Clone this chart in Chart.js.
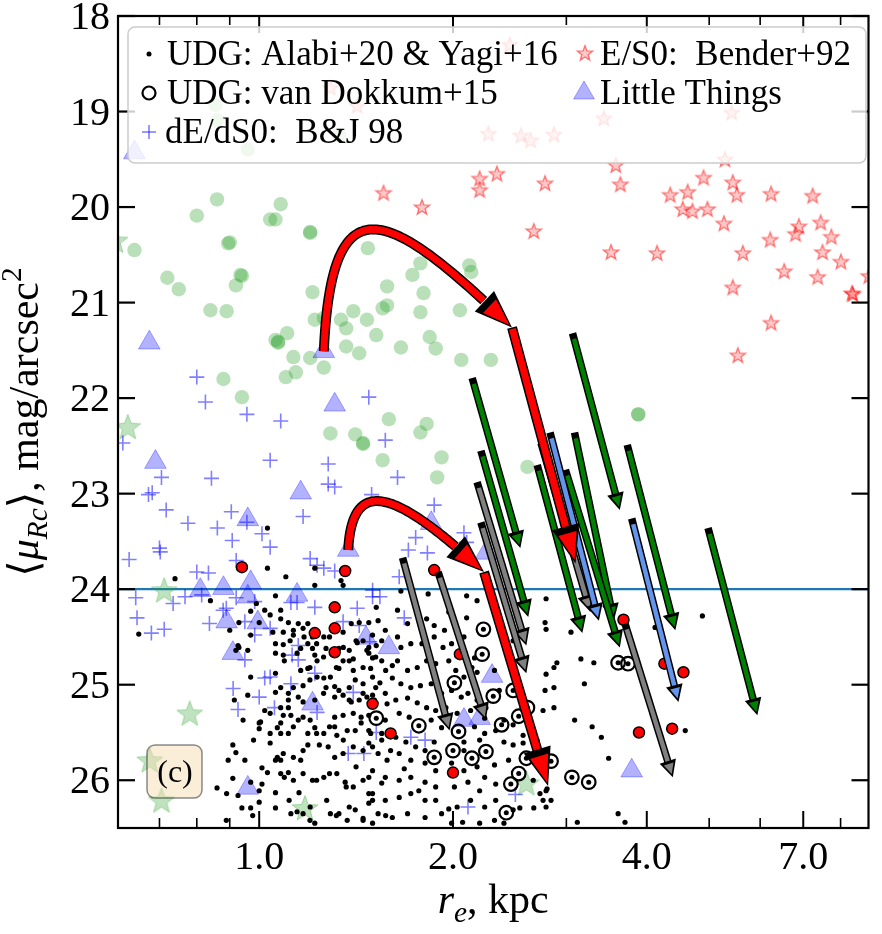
<!DOCTYPE html>
<html>
<head>
<meta charset="utf-8">
<script src="https://cdn.jsdelivr.net/npm/chart.js@4.4.1/dist/chart.umd.min.js"></script>
<style>
  html, body { margin: 0; padding: 0; background: #fff; }
  canvas { display: block; }
</style>
</head>
<body>
<canvas id="chart" width="882" height="934"></canvas>
<script>
// axis limits and ticks
const xMin = 0.6035, xMax = 8.84;
const yMin = 18, yMax = 26.5;
const xMajorTicks = [1, 2, 4, 7];
const xTickLabels = ['1.0', '2.0', '4.0', '7.0'];
const xMinorTicks = [0.7, 0.8, 0.9, 3, 5, 6, 8];
const yTicks = [18, 19, 20, 21, 22, 23, 24, 25, 26];
const muLimit = 24;

// UDG: Alabi+20 & Yagi+16  [r_e kpc, <mu>]
const udgPoints = [
  [1.10,23.87],[1.22,23.96],[1.35,23.96],[0.84,24.12],[1.06,24.07],[0.99,24.15],[1.02,24.22],[0.97,24.23],[1.08,24.22],[1.08,24.31],
  [0.93,24.35],[1.11,24.35],[1.15,24.36],[1.05,24.45],[1.09,24.45],[1.13,24.43],[1.17,24.41],[1.19,24.36],[1.21,24.50],[1.26,24.50],
  [1.35,24.45],[1.39,24.36],[1.43,24.35],[1.42,24.56],[1.45,24.54],[0.97,24.48],[0.93,24.61],[0.96,24.64],[0.92,24.64],[1.06,24.57],
  [1.06,24.67],[1.09,24.58],[1.09,24.69],[1.16,24.62],[1.19,24.57],[1.21,24.62],[1.22,24.69],[1.23,24.75],[1.27,24.62],[1.33,24.62],
  [1.38,24.64],[1.35,24.75],[1.40,24.73],[1.47,24.64],[1.48,24.67],[1.52,24.59],[1.33,24.83],[1.40,24.85],[1.45,24.82],[1.49,24.83],
  [0.97,24.92],[1.06,24.88],[1.16,24.85],[1.19,24.83],[1.08,25.03],[1.13,25.03],[1.17,25.01],[1.23,24.92],[1.26,24.93],[1.29,24.92],
  [1.27,25.03],[1.31,25.02],[1.33,25.06],[1.38,25.03],[1.41,24.95],[1.45,24.99],[1.50,24.92],[0.96,25.11],[1.06,25.08],[1.11,25.09],
  [1.11,25.16],[1.15,25.13],[1.17,25.18],[1.22,25.16],[1.31,25.13],[1.35,25.11],[1.39,25.18],[1.43,25.16],[1.47,25.13],[1.51,25.16],
  [1.08,25.24],[1.11,25.24],[1.02,25.27],[1.04,25.30],[1.09,25.32],[1.12,25.32],[1.15,25.37],[1.17,25.34],[1.20,25.37],[1.31,25.34],
  [1.35,25.32],[1.40,25.30],[1.44,25.34],[1.48,25.32],[1.00,25.40],[1.08,25.40],[1.13,25.44],[1.08,25.51],[1.11,25.51],[1.19,25.51],
  [1.22,25.45],[1.26,25.51],[1.31,25.44],[1.32,25.53],[1.37,25.48],[1.41,25.48],[1.44,25.40],[1.48,25.48],[0.91,25.63],[0.92,25.71],
  [0.95,25.79],[0.98,25.58],[1.04,25.61],[1.06,25.79],[1.08,25.79],[1.09,25.72],[1.13,25.76],[1.16,25.79],[1.17,25.69],[1.19,25.63],
  [1.24,25.63],[1.28,25.65],[1.31,25.76],[1.35,25.72],[1.40,25.65],[1.45,25.69],[1.50,25.65],[0.91,25.98],[0.86,26.08],[0.97,26.02],
  [1.00,26.11],[1.06,26.13],[1.08,25.93],[1.11,25.92],[1.13,26.00],[1.17,25.93],[1.21,26.00],[1.26,25.97],[1.32,25.93],[1.36,26.02],
  [1.40,26.07],[1.45,26.00],[1.48,26.14],[0.89,26.14],[0.94,26.29],[0.97,26.29],[1.00,26.23],[1.06,26.29],[1.12,26.35],[1.17,26.35],
  [1.20,26.28],[1.22,26.45],[1.29,26.35],[1.33,26.35],[1.37,26.42],[1.41,26.31],[1.45,26.40],[1.48,26.24],[1.50,26.45],[1.22,23.78],
  [1.34,23.91],[1.83,24.05],[2.10,24.07],[2.18,24.12],[2.79,24.10],[2.78,24.35],[2.79,24.42],[1.52,24.19],[1.64,24.22],[1.70,24.36],
  [1.82,24.31],[1.87,24.38],[1.94,24.43],[2.02,24.41],[2.08,24.50],[2.10,24.30],[1.48,24.35],[1.53,24.33],[1.57,24.43],[1.50,24.48],
  [1.64,24.50],[1.66,24.61],[1.72,24.57],[1.79,24.57],[1.87,24.50],[1.93,24.61],[1.99,24.57],[2.09,24.67],[2.16,24.72],[2.14,24.82],
  [1.50,24.72],[1.55,24.75],[1.61,24.80],[1.64,24.75],[1.70,24.85],[1.76,24.82],[1.82,24.75],[1.88,24.78],[1.97,24.75],[2.02,24.85],
  [2.08,24.92],[2.18,24.87],[2.16,24.99],[2.32,24.85],[1.54,24.98],[1.61,24.93],[1.66,24.99],[1.72,25.03],[1.78,25.01],[1.85,24.99],
  [1.92,25.09],[1.99,25.06],[2.06,25.13],[2.11,25.09],[2.18,25.16],[2.25,25.24],[1.50,25.11],[1.57,25.09],[1.63,25.16],[1.70,25.14],
  [1.76,25.19],[1.82,25.24],[1.88,25.27],[1.95,25.24],[2.03,25.30],[2.13,25.27],[2.24,25.35],[2.40,25.37],[2.48,25.42],[2.59,25.28],
  [2.76,25.27],[2.87,25.24],[2.87,24.82],[2.87,25.03],[2.78,25.06],[2.79,24.89],[1.57,25.37],[1.65,25.30],[1.71,25.34],[1.85,25.37],
  [1.92,25.45],[2.16,25.44],[2.24,25.51],[2.33,25.48],[2.40,25.60],[2.57,25.53],[1.49,25.51],[1.55,25.58],[1.63,25.55],[1.69,25.60],
  [1.75,25.65],[1.81,25.69],[1.87,25.60],[2.08,25.60],[2.20,25.58],[2.48,25.63],[2.57,25.61],[1.53,25.72],[1.58,25.79],[1.65,25.72],
  [1.72,25.79],[1.81,25.82],[1.88,25.90],[1.99,25.82],[2.08,25.90],[2.18,25.86],[2.24,25.97],[2.32,25.84],[1.50,25.90],[1.57,25.97],
  [1.65,26.00],[1.72,25.97],[1.81,26.02],[1.88,26.07],[2.01,26.07],[2.11,26.02],[2.20,26.11],[2.33,26.04],[1.50,26.14],[1.57,26.21],
  [1.65,26.18],[1.72,26.14],[1.81,26.21],[1.88,26.21],[2.03,26.28],[2.13,26.21],[2.24,26.28],[2.33,26.21],[1.53,26.35],[1.61,26.39],
  [1.70,26.35],[1.81,26.39],[1.92,26.35],[1.99,26.45],[2.20,26.45],[2.40,26.45],[2.54,26.29],[2.67,26.29],[2.76,26.21],[2.84,26.21],
  [2.79,26.11],[2.73,26.14],[2.90,24.77],[3.09,25.37],[3.29,25.44],[3.40,25.55],[3.49,25.77],[3.61,26.35],[3.12,26.44],[2.79,26.28],
  [2.80,26.09],[3.05,24.45],[3.16,24.73],[3.31,24.77],[3.20,24.99],[4.88,24.28],[4.59,25.48],[4.12,24.40],[3.70,26.44],[0.74,23.89],
  [0.65,24.47],[1.13,24.48],[1.04,24.27],[1.00,24.35],[1.03,23.78],[1.01,26.04],[1.01,25.87],[1.00,25.46],[1.04,25.51],[1.03,23.36],
  [0.927,24.59],[1.005,25.39],[1.067,25.45],[1.03,25.92],[1.067,25.76],[1.094,25.97],[1.113,26.21],[1.145,26.33],[1.199,26.42],[1.273,26.21],
  [1.318,26.37],[1.38,26.28],[1.45,26.42],[1.50,26.21],[1.572,26.37],[1.153,26.13],[1.228,26.00],[1.286,25.93],[1.365,26.07],[1.414,25.86],
  [1.48,25.97],[1.55,26.03],[1.199,24.95],[1.259,25.09],[1.38,25.16],[1.45,25.09],[1.517,25.03],[1.58,25.20],[1.228,25.51],[1.286,25.44],
  [1.351,25.58],[1.48,25.61],[1.55,25.51],[1.094,24.75],[1.145,24.67],[1.199,24.82],[1.259,24.71],[1.318,24.82],[1.38,24.75],[1.517,24.71],
  [1.572,24.85],[1.117,24.54],[1.174,24.50],[1.228,24.57],[1.286,24.50],[1.351,24.61],[1.414,24.54],[1.48,24.61],[1.55,24.54],[1.66,24.02],
  [1.75,24.17],[1.97,24.24],[2.315,24.22],[2.48,24.54],[2.57,24.75],[2.36,25.06],[2.70,25.58],[2.44,25.79],[2.665,26.00],[2.07,26.44],
  [1.60,25.69],[1.68,25.88],[1.77,26.11],[2.08,25.69],[1.97,26.30],[2.32,26.42],[2.48,26.31],[0.90,24.43],[0.915,25.16],[0.944,25.37],
  [0.895,25.79],[0.927,26.16],[0.977,26.37],[0.889,26.42]
];

// UDG: van Dokkum+15
const vdkPoints = [
  [2.23,24.42],[2.22,24.68],[2.01,24.98],[2.31,25.12],[2.48,25.06],[2.53,25.33],[2.61,25.24],[2.38,25.42],[1.77,25.43],[2.04,25.49],
  [2.00,25.69],[1.87,25.76],[2.14,25.77],[2.25,25.70],[2.60,25.77],[2.84,25.80],[2.53,25.93],[2.46,26.04],[3.06,25.97],[3.25,26.02],
  [2.42,26.34],[3.61,24.77],[3.74,24.78],[1.52,25.35]
];

// dE/dS0: B&J 98
const dePoints = [
  [0.80,21.78],[0.825,22.04],[0.957,22.17],[1.08,22.24],[0.614,22.47],[1.04,22.65],[1.48,21.99],[1.57,22.44],[1.64,22.83],[0.705,22.83],
  [0.843,22.84],[1.28,22.69],[1.28,22.90],[1.31,22.93],[0.673,23.01],[0.682,22.99],[0.717,23.17],[0.775,23.31],[0.861,23.36],[0.905,23.19],
  [0.908,23.49],[0.957,23.30],[1.01,23.42],[1.04,23.56],[1.17,23.24],[1.495,23.01],[1.87,23.12],[1.75,23.46],[0.70,23.57],[0.628,23.69],
  [0.702,23.61],[1.20,23.68],[1.26,23.78],[1.31,23.81],[0.921,23.70],[0.80,23.82],[0.834,23.83],[1.23,23.75],[1.705,23.59],[1.825,23.62],
  [2.08,23.41],[2.10,23.51],[1.65,23.87],[1.54,24.08],[1.50,24.08],[1.68,24.30],[0.643,24.09],[0.735,24.15],[0.767,24.08],[0.814,24.06],
  [0.921,24.09],[0.984,24.13],[0.889,24.20],[0.646,24.30],[0.68,24.46],[0.712,24.42],[0.837,24.36],[0.879,24.22],[0.95,24.34],[0.984,24.48],
  [1.04,24.41],[0.95,24.74],[1.15,24.59],[1.12,24.14],[1.145,24.14],[1.22,24.19],[1.125,24.69],[1.15,24.74],[1.22,24.88],[1.04,24.92],
  [1.12,24.99],[1.02,24.93],[1.00,25.13],[1.056,25.24],[0.911,25.04],[0.927,25.26],[1.23,25.29],[1.375,25.72],[1.454,25.72],[1.42,24.20],
  [1.35,24.34],[1.43,24.38],[1.485,24.55],[1.50,24.01],[1.40,25.08],[1.52,25.50],[1.72,25.55],[1.81,25.58],[2.50,26.15],[2.11,26.28]
];

// E/S0: Bender+92
const esPoints = [
  [2.45,18.30],[1.29,18.75],[1.42,18.94],[2.27,19.23],[2.55,19.25],[2.64,19.30],[2.87,19.24],[3.43,19.07],[5.42,19.01],[3.58,19.56],
  [5.29,19.50],[2.20,19.70],[2.34,19.65],[2.20,19.82],[2.78,19.75],[1.56,19.85],[1.79,20.00],[2.67,20.25],[4.90,19.69],[3.64,19.76],
  [5.44,19.74],[4.35,19.87],[4.63,19.84],[5.52,19.87],[6.24,19.86],[7.24,19.88],[4.55,20.02],[4.71,20.04],[4.97,20.02],[5.27,20.17],
  [6.89,20.20],[6.81,20.28],[7.45,20.16],[7.74,20.31],[6.22,20.34],[3.52,20.47],[4.15,20.48],[5.64,20.48],[7.50,20.47],[8.01,20.57],
  [6.54,20.67],[7.37,20.73],[8.85,20.72],[5.44,20.84],[8.33,20.90],[8.36,20.91],[6.24,21.21],[5.54,21.55]
];

// Little Things
const ltPoints = [
  [0.64,19.43],[0.675,21.42],[1.31,22.07],[0.69,22.67],[1.16,22.99],[0.96,23.27],[1.85,23.31],[1.26,21.51],[1.375,23.59],[0.81,24.01],
  [0.88,23.99],[0.97,23.93],[1.145,24.06],[0.96,24.08],[0.89,24.34],[0.995,24.35],[0.91,24.67],[1.21,25.20],[1.465,24.51],[1.59,24.61],
  [0.96,26.08],[2.25,23.62],[2.08,25.37],[2.20,25.35],[2.30,24.91],[3.79,25.90]
];

// green circles (no legend entry)
const greenPoints = [
  [0.86,19.92],[0.80,20.09],[1.08,19.97],[1.04,20.13],[1.06,20.13],[0.895,20.38],[0.90,20.37],[0.64,20.45],[0.72,20.74],[0.75,20.86],
  [0.94,20.72],[0.935,20.71],[0.92,20.82],[1.20,20.26],[1.20,20.27],[1.21,20.89],[1.475,20.43],[1.78,20.59],[1.73,20.71],[1.58,20.83],
  [1.80,20.90],[2.12,20.61],[2.135,20.68],[1.555,21.06],[1.58,21.03],[1.78,21.10],[2.05,21.08],[1.84,21.36],[1.88,21.48],[1.66,21.47],
  [1.52,21.34],[2.06,21.60],[2.29,21.60],[0.84,21.08],[0.89,21.09],[1.06,21.39],[1.07,21.42],[1.07,21.41],[1.105,21.32],[1.13,21.57],
  [1.20,21.58],[1.22,21.18],[1.26,21.16],[1.34,21.18],[1.365,21.27],[1.40,21.09],[1.47,21.18],[1.365,21.46],[1.43,21.53],[1.14,21.73],
  [1.10,21.78],[1.26,21.68],[0.88,21.80],[0.94,21.99],[1.59,22.22],[1.78,22.36],[1.82,22.27],[1.29,22.37],[1.41,22.38],[1.45,22.48],
  [1.45,22.47],[1.555,22.65],[1.92,22.62],[1.89,22.83],[2.61,22.72],[3.88,22.17],[3.88,22.17],[0.855,18.93],[0.86,19.09],[0.96,19.40],
  [1.33,19.25]
];

// green stars (no legend entry)
const greenStarPoints = [
  [0.597,20.35],[0.625,22.30],[0.712,24.01],[0.78,25.30],[0.676,25.79],[0.705,26.21],[1.178,26.29],[2.60,26.03]
];

// red circles (no legend entry)
const redPoints = [
  [0.94,23.77],[1.36,23.81],[1.31,24.19],[1.31,24.41],[1.22,24.46],[1.31,24.66],[1.50,25.20],[1.60,25.51],[1.87,23.80],[2.05,24.68],
  [2.00,25.92],[4.56,24.87],[3.89,25.50],[4.38,25.46],[3.68,24.32],[4.26,24.78]
];

// arrows: [r0, mu0, r1, mu1]
const greyArrows = [
  [1.67,23.67,1.976,25.48],[1.896,23.82,2.25,25.37],[2.18,22.88,2.60,24.59],[2.21,23.30,2.60,24.88],
  [2.74,22.47,3.27,24.24],[3.70,24.36,4.39,25.97]
];
const greenArrows = [
  [2.142,21.79,2.545,23.57],[2.21,22.55,2.618,24.29],[3.067,21.32,3.632,23.17],[2.703,22.70,3.177,24.46],
  [3.089,22.36,3.555,24.33],[2.99,22.75,3.632,24.61],[3.73,22.49,4.43,24.43],[4.98,23.36,5.94,25.32]
];
const blueArrows = [
  [2.83,22.36,3.37,24.33],[3.79,23.26,4.48,25.18]
];
const redArrows = [
  [2.47,21.26,3.10,23.73],[2.235,23.82,2.81,26.06]
];
// curved red arrows: start, two control points, end
const redCurves = [
  { from: [1.26,21.51], c1: [1.295,19.72], c2: [1.572,19.98], to: [2.47,21.26] },
  { from: [1.375,23.59], c1: [1.394,22.80], c2: [1.628,22.96], to: [2.235,23.82] }
];

const SERIF = '"Liberation Serif", "DejaVu Serif", serif';
const toXY = pts => pts.map(p => ({ x: p[0], y: p[1] }));

function makeStar(r, fill, stroke, lw) {
  const s = Math.ceil(2 * r + lw + 4);
  const c = document.createElement('canvas');
  c.width = c.height = s;
  const g = c.getContext('2d');
  g.translate(s / 2, s / 2 + r * 0.08);
  g.beginPath();
  for (let i = 0; i < 10; i++) {
    const a = -Math.PI / 2 + i * Math.PI / 5;
    const rr = i % 2 ? r * 0.42 : r;
    g.lineTo(rr * Math.cos(a), rr * Math.sin(a));
  }
  g.closePath();
  g.fillStyle = fill;
  g.fill();
  g.lineWidth = lw;
  g.strokeStyle = stroke;
  g.stroke();
  return c;
}

const redStar = makeStar(8, 'rgba(255,0,0,0.22)', 'rgba(255,0,0,0.5)', 1.4);
const greenStar = makeStar(13.5, 'rgba(44,160,44,0.3)', 'rgba(44,160,44,0.35)', 1);

// helpers for drawing
function pix(chart, v) {
  return [chart.scales.x.getPixelForValue(v[0]), chart.scales.y.getPixelForValue(v[1])];
}
function strokePath(ctx, pts, color, w) {
  ctx.beginPath();
  pts.forEach((p, i) => i ? ctx.lineTo(p[0], p[1]) : ctx.moveTo(p[0], p[1]));
  ctx.strokeStyle = color;
  ctx.lineWidth = w;
  ctx.stroke();
}
function tri(ctx, a, b, c, color) {
  ctx.beginPath();
  ctx.moveTo(a[0], a[1]);
  ctx.lineTo(b[0], b[1]);
  ctx.lineTo(c[0], c[1]);
  ctx.closePath();
  ctx.fillStyle = color;
  ctx.fill();
}
function head(ctx, tip, ux, uy, st) {
  const nx = -uy, ny = ux;
  const bx = tip[0] - ux * st.hl, by = tip[1] - uy * st.hl;
  tri(ctx, tip, [bx + nx * st.hw / 2, by + ny * st.hw / 2], [bx - nx * st.hw / 2, by - ny * st.hw / 2], '#000');
  const ix = bx + ux * st.band, iy = by + uy * st.band;
  const ihw = st.hw / 2 * (st.hl - st.band) / st.hl - 2;
  const itip = [tip[0] - ux * 3.5, tip[1] - uy * 3.5];
  tri(ctx, itip, [ix + nx * ihw, iy + ny * ihw], [ix - nx * ihw, iy - ny * ihw], st.color);
}
function straightArrow(ctx, chart, seg, st) {
  const a = pix(chart, [seg[0], seg[1]]), b = pix(chart, [seg[2], seg[3]]);
  const d = Math.hypot(b[0] - a[0], b[1] - a[1]);
  const ux = (b[0] - a[0]) / d, uy = (b[1] - a[1]) / d;
  const base = [b[0] - ux * st.hl, b[1] - uy * st.hl];
  strokePath(ctx, [a, [base[0] + ux, base[1] + uy]], '#000', st.bw);
  strokePath(ctx, [[a[0] + ux * st.cap, a[1] + uy * st.cap], [base[0] + ux * 2, base[1] + uy * 2]], st.color, st.bw - 3);
  head(ctx, b, ux, uy, st);
}
function bez(p0, c1, c2, p3, t) {
  const u = 1 - t;
  return [u * u * u * p0[0] + 3 * u * u * t * c1[0] + 3 * u * t * t * c2[0] + t * t * t * p3[0],
          u * u * u * p0[1] + 3 * u * u * t * c1[1] + 3 * u * t * t * c2[1] + t * t * t * p3[1]];
}
function curvedArrow(ctx, chart, c, st) {
  const p0 = pix(chart, c.from), c1 = pix(chart, c.c1), c2 = pix(chart, c.c2), p3 = pix(chart, c.to);
  let tb = 1, pb = p3;
  while (tb > 0) {
    tb -= 0.002;
    pb = bez(p0, c1, c2, p3, tb);
    if (Math.hypot(p3[0] - pb[0], p3[1] - pb[1]) >= st.hl) break;
  }
  const pts = [];
  for (let i = 0; i <= 100; i++) pts.push(bez(p0, c1, c2, p3, tb * i / 100));
  strokePath(ctx, pts, '#000', st.bw);
  strokePath(ctx, pts, st.color, st.bw - 3);
  const d = Math.hypot(p3[0] - pb[0], p3[1] - pb[1]);
  head(ctx, p3, (p3[0] - pb[0]) / d, (p3[1] - pb[1]) / d, st);
}

function richFont(p, size) {
  const s = (p.sub || p.sup) ? size * 0.7 : size;
  return (p.it ? 'italic ' : '') + s.toFixed(1) + 'px ' + SERIF;
}
function drawRich(ctx, parts, cx, baseY, size) {
  let w = 0;
  parts.forEach(p => { ctx.font = richFont(p, size); w += ctx.measureText(p.t).width; });
  let x = cx - w / 2;
  ctx.textAlign = 'left';
  ctx.textBaseline = 'alphabetic';
  parts.forEach(p => {
    ctx.font = richFont(p, size);
    const dy = p.sub ? size * 0.22 : p.sup ? -size * 0.4 : 0;
    ctx.fillText(p.t, x, baseY + dy);
    x += ctx.measureText(p.t).width;
  });
}

const thin = color => ({ color: color, bw: 7.5, hw: 17, hl: 17, band: 3, cap: 6 });
const redStyle = { color: '#ff0000', bw: 10, hw: 28, hl: 38, band: 7, cap: 1.5 };

const decor = {
  id: 'decor',
  beforeDatasetsDraw(chart) {
    const ctx = chart.ctx, a = chart.chartArea;
    const y = chart.scales.y.getPixelForValue(muLimit);
    ctx.save();
    strokePath(ctx, [[a.left, y], [a.right, y]], '#1f77b4', 2.2);
    ctx.restore();
  },
  afterDatasetsDraw(chart) {
    const ctx = chart.ctx, a = chart.chartArea;
    const xs = chart.scales.x, ys = chart.scales.y;
    ctx.save();
    ctx.beginPath();
    ctx.rect(a.left, a.top, a.right - a.left, a.bottom - a.top);
    ctx.clip();
    ctx.lineJoin = 'miter';
    ctx.lineCap = 'butt';
    greyArrows.forEach(s => straightArrow(ctx, chart, s, thin('#808080')));
    greenArrows.forEach(s => straightArrow(ctx, chart, s, thin('#008000')));
    blueArrows.forEach(s => straightArrow(ctx, chart, s, thin('#6495ed')));
    redArrows.forEach(s => straightArrow(ctx, chart, s, redStyle));
    redCurves.forEach(c => curvedArrow(ctx, chart, c, redStyle));
    ctx.restore();

    ctx.save();
    // frame and inward ticks
    xMajorTicks.forEach(v => {
      const x = xs.getPixelForValue(v);
      strokePath(ctx, [[x, a.bottom], [x, a.bottom - 17]], '#000', 2);
      strokePath(ctx, [[x, a.top], [x, a.top + 17]], '#000', 2);
    });
    xMinorTicks.forEach(v => {
      const x = xs.getPixelForValue(v);
      strokePath(ctx, [[x, a.bottom], [x, a.bottom - 10]], '#000', 1.6);
      strokePath(ctx, [[x, a.top], [x, a.top + 9]], '#000', 1.6);
    });
    yTicks.forEach(v => {
      const y = ys.getPixelForValue(v);
      strokePath(ctx, [[a.left, y], [a.left + 17, y]], '#000', 2.2);
      strokePath(ctx, [[a.right, y], [a.right - 17, y]], '#000', 2.2);
    });
    ctx.strokeStyle = '#000';
    ctx.lineWidth = 2.2;
    ctx.strokeRect(a.left, a.top, a.right - a.left, a.bottom - a.top);

    // tick labels
    ctx.fillStyle = '#000';
    ctx.font = '40px ' + SERIF;
    ctx.textAlign = 'center';
    ctx.textBaseline = 'alphabetic';
    xMajorTicks.forEach((v, i) => ctx.fillText(xTickLabels[i], xs.getPixelForValue(v), 869));
    ctx.textAlign = 'right';
    yTicks.forEach(v => ctx.fillText(String(v), 110, ys.getPixelForValue(v) + 13));

    // axis titles
    drawRich(ctx, [{ t: 'r', it: true }, { t: 'e', it: true, sub: true }, { t: ', kpc' }],
      (a.left + a.right) / 2, 913, 42);
    ctx.save();
    ctx.translate(38, (a.top + a.bottom) / 2);
    ctx.rotate(-Math.PI / 2);
    drawRich(ctx, [{ t: '\u27E8' }, { t: '\u03BC', it: true }, { t: 'Rc', it: true, sub: true },
      { t: '\u27E9, mag/arcsec' }, { t: '2', sup: true }], 0, 0, 42);
    ctx.restore();

    // legend
    ctx.beginPath();
    ctx.roundRect(128, 27, 738, 136, 7);
    ctx.fillStyle = 'rgba(255,255,255,0.8)';
    ctx.fill();
    ctx.strokeStyle = '#cccccc';
    ctx.lineWidth = 1.5;
    ctx.stroke();

    ctx.fillStyle = '#000';
    ctx.beginPath(); ctx.arc(149, 54, 2.5, 0, Math.PI * 2); ctx.fill();
    ctx.beginPath(); ctx.arc(149, 93, 6.5, 0, Math.PI * 2);
    ctx.strokeStyle = '#000'; ctx.lineWidth = 2.2; ctx.stroke();
    strokePath(ctx, [[142, 132], [156, 132]], 'rgba(0,0,255,0.5)', 1.6);
    strokePath(ctx, [[149, 125], [149, 139]], 'rgba(0,0,255,0.5)', 1.6);
    ctx.drawImage(redStar, 585 - redStar.width / 2, 53 - redStar.height / 2);
    ctx.beginPath();
    ctx.moveTo(584, 81); ctx.lineTo(594.4, 99); ctx.lineTo(573.6, 99); ctx.closePath();
    ctx.fillStyle = 'rgba(0,0,255,0.3)'; ctx.fill();
    ctx.strokeStyle = 'rgba(0,0,255,0.3)'; ctx.lineWidth = 1; ctx.stroke();

    ctx.fillStyle = '#000';
    ctx.font = '35px ' + SERIF;
    ctx.textAlign = 'left';
    ctx.textBaseline = 'alphabetic';
    ctx.fillText('UDG: Alabi+20 & Yagi+16', 167, 65);
    ctx.fillText('UDG: van Dokkum+15', 167, 104);
    ctx.fillText('dE/dS0:  B&J 98', 165, 143);
    ctx.fillText('E/S0:  Bender+92', 600, 65);
    ctx.fillText('Little Things', 600, 104);

    // panel label
    ctx.beginPath();
    ctx.roundRect(147, 745, 55, 53, 8);
    ctx.fillStyle = 'rgba(245,222,179,0.5)';
    ctx.fill();
    ctx.strokeStyle = 'rgba(0,0,0,0.45)';
    ctx.lineWidth = 1.5;
    ctx.stroke();
    ctx.fillStyle = '#000';
    ctx.font = '32px ' + SERIF;
    ctx.textAlign = 'center';
    ctx.fillText('(c)', 175, 782);
    ctx.restore();
  }
};

new Chart(document.getElementById('chart').getContext('2d'), {
  type: 'scatter',
  data: {
    datasets: [
      { label: 'red', data: toXY(redPoints), order: 1, clip: 0,
        pointRadius: 5.5, backgroundColor: '#ff0000', borderColor: '#000', borderWidth: 1.5 },
      { label: 'vdk centre', data: toXY(vdkPoints), order: 2, clip: 0,
        pointRadius: 2.5, backgroundColor: '#000', borderWidth: 0 },
      { label: 'UDG: van Dokkum+15', data: toXY(vdkPoints), order: 3, clip: 0,
        pointRadius: 6.8, backgroundColor: 'rgba(0,0,0,0)', borderColor: '#000', borderWidth: 2.2 },
      { label: 'UDG: Alabi+20 & Yagi+16', data: toXY(udgPoints), order: 4, clip: 0,
        pointRadius: 2.6, backgroundColor: '#000', borderWidth: 0 },
      { label: 'dE/dS0: B&J 98', data: toXY(dePoints), order: 5, clip: 0,
        pointStyle: 'cross', pointRadius: 7.5, borderColor: 'rgba(0,0,255,0.5)', borderWidth: 1.6 },
      { label: 'Little Things', data: toXY(ltPoints), order: 6, clip: 0,
        pointStyle: 'triangle', pointRadius: 12.5, backgroundColor: 'rgba(0,0,255,0.3)',
        borderColor: 'rgba(0,0,255,0.3)', borderWidth: 1 },
      { label: 'green stars', data: toXY(greenStarPoints), order: 7, clip: 0,
        pointStyle: greenStar, pointRadius: 12 },
      { label: 'E/S0: Bender+92', data: toXY(esPoints), order: 8, clip: 0,
        pointStyle: redStar, pointRadius: 7 },
      { label: 'green', data: toXY(greenPoints), order: 9, clip: 0,
        pointRadius: 7.2, backgroundColor: 'rgba(44,160,44,0.33)', borderWidth: 0 }
    ]
  },
  options: {
    responsive: false,
    animation: false,
    events: [],
    layout: { padding: { left: 118, top: 16, right: 1, bottom: 106 } },
    plugins: { legend: { display: false }, tooltip: { enabled: false } },
    scales: {
      x: {
        type: 'logarithmic', display: false, min: xMin, max: xMax,
        afterBuildTicks: s => { s.min = xMin; s.max = xMax; }
      },
      y: {
        type: 'linear', display: false, reverse: true, min: yMin, max: yMax,
        afterBuildTicks: s => { s.min = yMin; s.max = yMax; }
      }
    }
  },
  plugins: [decor]
});
</script>
</body>
</html>
